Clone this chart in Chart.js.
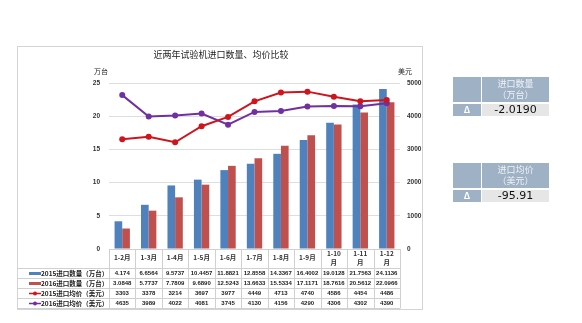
<!DOCTYPE html>
<html>
<head>
<meta charset="utf-8">
<script src="https://cdn.jsdelivr.net/npm/chart.js@4/dist/chart.umd.min.js"></script>
<style>
  body { margin: 0; background: #fff; width: 582px; height: 323px; overflow: hidden; position: relative; font-family: "Noto Sans CJK SC", "Noto Sans", sans-serif; }
  #wrap { position: absolute; left: 0; top: 0; width: 582px; height: 323px; }
  .topbar { position: absolute; left: 17px; top: 11px; width: 292px; height: 8px; background: #c00000; }
  .topline { position: absolute; left: 309px; top: 11px; width: 273px; height: 1px; background: #c86060; }
  .panel { position: absolute; left: 453px; width: 96px; }
  .panel .head { display: flex; height: 25px; }
  .panel .head .a { width: 28px; background: #9fb1c5; }
  .panel .head .b { flex: 1; margin-left: 1px; background: #9fb1c5; color: #eef2f6; font-size: 9px; line-height: 11px; text-align: center; padding-top: 1px; }
  .panel .row { display: flex; height: 12px; margin-top: 2px; }
  .panel .row .a { width: 28px; background: #9fb1c5; color: #fff; font-size: 9px; font-weight: bold; text-align: center; line-height: 12px; }
  .panel .row .b { flex: 1; margin-left: 1px; background: #e6e6e6; color: #111; font-size: 11px; text-align: center; line-height: 12px; font-family: "DejaVu Sans", sans-serif; }
</style>
</head>
<body>
<div class="topbar"></div>
<div class="topline"></div>
<div id="wrap"><canvas id="importChart" width="582" height="323"></canvas></div>
<div class="panel" style="top:77px">
  <div class="head"><div class="a"></div><div class="b">进口数量<br>（万台）</div></div>
  <div class="row"><div class="a">Δ</div><div class="b">-2.0190</div></div>
</div>
<div class="panel" style="top:163px">
  <div class="head"><div class="a"></div><div class="b">进口均价<br>（美元）</div></div>
  <div class="row"><div class="a">Δ</div><div class="b">-95.91</div></div>
</div>
<script>
const categories = ['1-2月', '1-3月', '1-4月', '1-5月', '1-6月', '1-7月', '1-8月', '1-9月', '1-10月', '1-11月', '1-12月'];
const qty2015 = [4.174, 6.6564, 9.5737, 10.4457, 11.8821, 12.8558, 14.3367, 16.4002, 19.0128, 21.7563, 24.1136];
const qty2016 = [3.0848, 5.7737, 7.7809, 9.6890, 12.5243, 13.6633, 15.5334, 17.1171, 18.7616, 20.5612, 22.0966];
const price2015 = [3303, 3378, 3214, 3697, 3977, 4449, 4713, 4740, 4586, 4454, 4486];
const price2016 = [4635, 3989, 4022, 4081, 3745, 4130, 4156, 4290, 4306, 4302, 4390];
const qtyTicks = [0, 5, 10, 15, 20, 25];
const priceTicks = [0, 1000, 2000, 3000, 4000, 5000];

// table cells keep the trailing zeros shown in the source table
const qtyText = ['4.174', '6.6564', '9.5737', '10.4457', '11.8821', '12.8558', '14.3367', '16.4002', '19.0128', '21.7563', '24.1136'];
const qty16Text = ['3.0848', '5.7737', '7.7809', '9.6890', '12.5243', '13.6633', '15.5334', '17.1171', '18.7616', '20.5612', '22.0966'];

const BLUE = '#4f81bd', RED = '#c0504d', LRED = '#d0141e', PURPLE = '#7030a0';
const CJK = '"Noto Sans CJK SC", sans-serif';

const rows = [
  { label: '2015进口数量（万台）', kind: 'bar', color: BLUE, text: qtyText },
  { label: '2016进口数量（万台）', kind: 'bar', color: RED, text: qty16Text },
  { label: '2015进口均价（美元）', kind: 'line', color: LRED, text: price2015.map(String) },
  { label: '2016进口均价（美元）', kind: 'line', color: PURPLE, text: price2016.map(String) }
];

const tablePlugin = {
  id: 'tablePlugin',
  beforeDraw(chart) {
    const ctx = chart.ctx;
    ctx.save();
    ctx.fillStyle = '#fff';
    ctx.fillRect(0, 0, chart.width, chart.height);
    ctx.strokeStyle = '#d4d4d4';
    ctx.lineWidth = 1;
    ctx.strokeRect(17.5, 46.5, 405, 263);
    ctx.restore();
  },
  afterDraw(chart) {
    const ctx = chart.ctx;
    const area = chart.chartArea;
    const xs = chart.scales.x;
    const colW = (area.right - area.left) / categories.length;
    const rowTop = 268.5, rowH = 10;
    ctx.save();

    // title and units
    ctx.fillStyle = '#222';
    ctx.textAlign = 'center';
    ctx.textBaseline = 'middle';
    ctx.font = '9px ' + CJK;
    ctx.fillText('近两年试验机进口数量、均价比较', 221, 55);
    ctx.font = '7px ' + CJK;
    ctx.fillText('万台', 101, 71);
    ctx.fillText('美元', 405, 71);

    // table grid
    ctx.strokeStyle = '#d0d0d0';
    ctx.lineWidth = 1;
    ctx.beginPath();
    ctx.moveTo(area.left, Math.round(area.bottom) + 0.5);
    ctx.lineTo(area.right, Math.round(area.bottom) + 0.5);
    for (let r = 0; r <= rows.length; r++) {
      const y = rowTop + r * rowH;
      ctx.moveTo(17, y);
      ctx.lineTo(area.right, y);
    }
    for (let i = 0; i <= categories.length; i++) {
      const x = Math.round(area.left + i * colW) + 0.5;
      ctx.moveTo(x, area.bottom);
      ctx.lineTo(x, rowTop + rows.length * rowH);
    }
    ctx.stroke();

    // category labels
    ctx.fillStyle = '#333';
    ctx.font = 'bold 6.5px ' + CJK;
    categories.forEach((c, i) => {
      const cx = xs.getPixelForValue(i);
      if (c.length > 4) {
        ctx.fillText(c.slice(0, -1), cx, 254);
        ctx.fillText(c.slice(-1), cx, 263);
      } else {
        ctx.fillText(c, cx, 258);
      }
    });

    // rows
    rows.forEach((row, r) => {
      const cy = rowTop + r * rowH + rowH / 2;
      ctx.fillStyle = row.color;
      ctx.strokeStyle = row.color;
      if (row.kind === 'bar') {
        ctx.fillRect(29, cy - 1.5, 12, 3);
      } else {
        ctx.lineWidth = 1.5;
        ctx.beginPath();
        ctx.moveTo(29, cy);
        ctx.lineTo(41, cy);
        ctx.stroke();
        ctx.beginPath();
        ctx.arc(35, cy, 2, 0, Math.PI * 2);
        ctx.fill();
      }
      ctx.fillStyle = '#222';
      ctx.textAlign = 'left';
      ctx.font = 'bold 6.5px ' + CJK;
      ctx.fillText(row.label, 41, cy);
      ctx.textAlign = 'center';
      ctx.font = 'bold 6px "Liberation Sans", sans-serif';
      row.text.forEach((t, i) => {
        ctx.fillText(t, xs.getPixelForValue(i), cy);
      });
    });
    ctx.restore();
  }
};

new Chart(document.getElementById('importChart'), {
  type: 'bar',
  data: {
    labels: categories,
    datasets: [
      { label: '2015进口均价（美元）', type: 'line', data: price2015, yAxisID: 'y1', borderColor: LRED, backgroundColor: LRED, borderWidth: 2, pointRadius: 3, pointBorderWidth: 0, order: 0 },
      { label: '2016进口均价（美元）', type: 'line', data: price2016, yAxisID: 'y1', borderColor: PURPLE, backgroundColor: PURPLE, borderWidth: 2, pointRadius: 3, pointBorderWidth: 0, order: 0 },
      { label: '2015进口数量（万台）', data: qty2015, yAxisID: 'y', backgroundColor: BLUE, categoryPercentage: 0.58, barPercentage: 1, order: 1 },
      { label: '2016进口数量（万台）', data: qty2016, yAxisID: 'y', backgroundColor: RED, categoryPercentage: 0.58, barPercentage: 1, order: 1 }
    ]
  },
  options: {
    responsive: false,
    animation: false,
    layout: { padding: { left: 80, right: 159, top: 83, bottom: 74 } },
    plugins: {
      legend: { display: false },
      tooltip: { enabled: false }
    },
    scales: {
      x: { display: false },
      y: {
        position: 'left',
        min: qtyTicks[0],
        max: qtyTicks[qtyTicks.length - 1],
        afterBuildTicks: s => { s.ticks = qtyTicks.map(v => ({ value: v })); },
        afterFit: s => { s.width = 29; },
        border: { display: false },
        grid: { color: '#dedede', drawTicks: false },
        ticks: { padding: 9, color: '#333', font: { size: 6.5, weight: 'bold', family: 'Liberation Sans' } }
      },
      y1: {
        position: 'right',
        min: priceTicks[0],
        max: priceTicks[priceTicks.length - 1],
        afterBuildTicks: s => { s.ticks = priceTicks.map(v => ({ value: v })); },
        afterFit: s => { s.width = 23; },
        border: { display: false },
        grid: { display: false, drawTicks: false },
        ticks: { padding: 7, color: '#333', callback: v => String(v), font: { size: 6.5, weight: 'bold', family: 'Liberation Sans' } }
      }
    }
  },
  plugins: [tablePlugin]
});
</script>
</body>
</html>
